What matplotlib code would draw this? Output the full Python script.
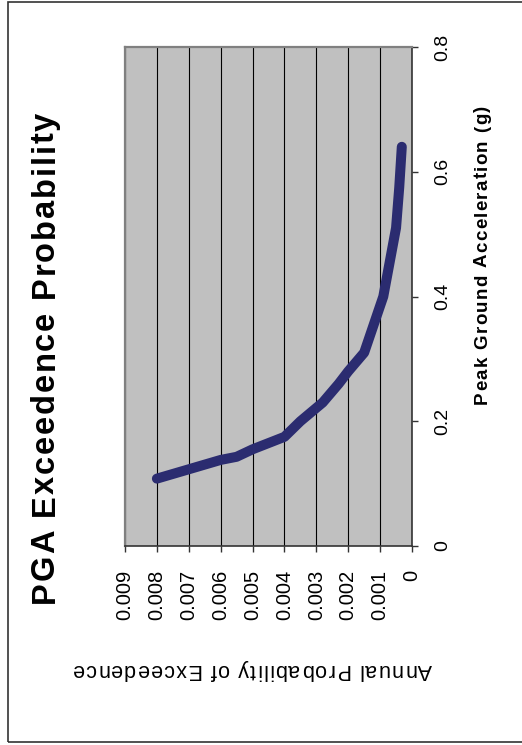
import matplotlib
matplotlib.use("Agg")
import matplotlib.pyplot as plt
from matplotlib.patches import Rectangle
from matplotlib import font_manager as fm
from matplotlib.ft2font import FT2Font

plt.rcParams['font.family'] = ['Liberation Sans', 'DejaVu Sans']

# Hazard curve: annual probability of exceedence vs. peak ground acceleration
annual_prob = [0.0080, 0.0070, 0.0060, 0.0055, 0.0050, 0.0040, 0.0035, 0.0028,
               0.0023, 0.0020, 0.0015, 0.0009, 0.0005, 0.0004, 0.00032]
pga_g = [0.108, 0.123, 0.138, 0.143, 0.155, 0.175, 0.200, 0.230,
         0.260, 0.280, 0.310, 0.400, 0.510, 0.575, 0.640]

prob_ticks = [0.009, 0.008, 0.007, 0.006, 0.005, 0.004, 0.003, 0.002, 0.001, 0]
prob_tick_labels = ['0.009', '0.008', '0.007', '0.006', '0.005', '0.004',
                    '0.003', '0.002', '0.001', '0']
pga_ticks = [0, 0.2, 0.4, 0.6, 0.8]
pga_tick_labels = ['0', '0.2', '0.4', '0.6', '0.8']

title = 'PGA Exceedence Probability'
pga_label = 'Peak Ground Acceleration (g)'
prob_label = 'Annual Probability of Exceedence'

W, H = 522, 745
DPI = 100
fig = plt.figure(figsize=(W / DPI, H / DPI), dpi=DPI)
fig.patch.set_facecolor('white')


def px(x, y):
    """Pixel position (from top-left) to figure fraction."""
    return x / W, 1 - y / H


def glyph_metrics(text, size, weight):
    """Advance width and left side bearing (pixels) of each character."""
    prop = fm.FontProperties(family='Liberation Sans', weight=weight, size=size)
    font = FT2Font(fm.findfont(prop))
    font.set_size(size, DPI)
    out = []
    for ch in text:
        g = font.load_char(ord(ch))
        out.append((g.linearHoriAdvance / 65536.0, g.horiBearingX / 64.0))
    return out


def tracked_text(text, start, end, baseline, size, weight, rotation):
    """Draw text letter by letter, spread evenly between two pixel positions
    along its reading direction (rotation 90: upward, 180: leftward)."""
    metrics = glyph_metrics(text, size, weight)
    natural = sum(a for a, _ in metrics)
    track = (abs(end - start) - natural) / (len(text) - 1)
    pos = 0.0
    for ch, (adv, lsb) in zip(text, metrics):
        if ch != ' ':
            p = pos + max(lsb, 0.0)
            xy = px(baseline, start - p) if rotation == 90 else px(start - p, baseline)
            fig.text(*xy, ch, rotation=rotation, rotation_mode='anchor',
                     ha='left', va='baseline', fontsize=size, fontweight=weight)
        pos += adv + track


# page frame
fig.patches.append(Rectangle(px(7.5, 742), 1.2, (742 - 1.5) / H,
                             transform=fig.transFigure, fill=False,
                             edgecolor='#333333', linewidth=1.2))

# chart turned a quarter turn: probability runs along the horizontal axis
# (decreasing to the right), PGA along the vertical axis
left, right, top, bottom = 125, 412, 47, 546
ax = fig.add_axes([left / W, 1 - bottom / H, (right - left) / W, (bottom - top) / H])
ax.set_facecolor('#c0c0c0')

ax.plot(annual_prob, pga_g, color='#2b2c70', linewidth=7.2,
        solid_capstyle='round', solid_joinstyle='round', zorder=3)

ax.set_xlim(0.009, 0)
ax.set_ylim(0, 0.8)
ax.set_xticks(prob_ticks)
ax.set_xticklabels(prob_tick_labels, rotation=90, fontsize=14.5)
ax.set_yticks(pga_ticks)
ax.yaxis.tick_right()
ax.set_yticklabels(pga_tick_labels, rotation=90, fontsize=14, va='center')

ax.grid(axis='x', color='black', linewidth=0.8, zorder=1)
ax.set_axisbelow(True)

ax.tick_params(axis='x', direction='out', length=4, width=1, color='#333333',
               pad=13, labelcolor='black')
ax.tick_params(axis='y', direction='out', length=4, width=1, color='#333333',
               pad=12, labelcolor='black')

for side in ('left', 'top'):
    ax.spines[side].set_color('#808080')
    ax.spines[side].set_linewidth(1.6)
for side in ('right', 'bottom'):
    ax.spines[side].set_color('#333333')
    ax.spines[side].set_linewidth(1.2)

tracked_text(title, 605, 113, 54, 23.5, 'bold', 90)
tracked_text(pga_label, 405, 106, 487, 13.5, 'bold', 90)
tracked_text(prob_label, 432, 73, 664, 15.5, 'normal', 180)

fig.savefig('out.png', dpi=DPI)
